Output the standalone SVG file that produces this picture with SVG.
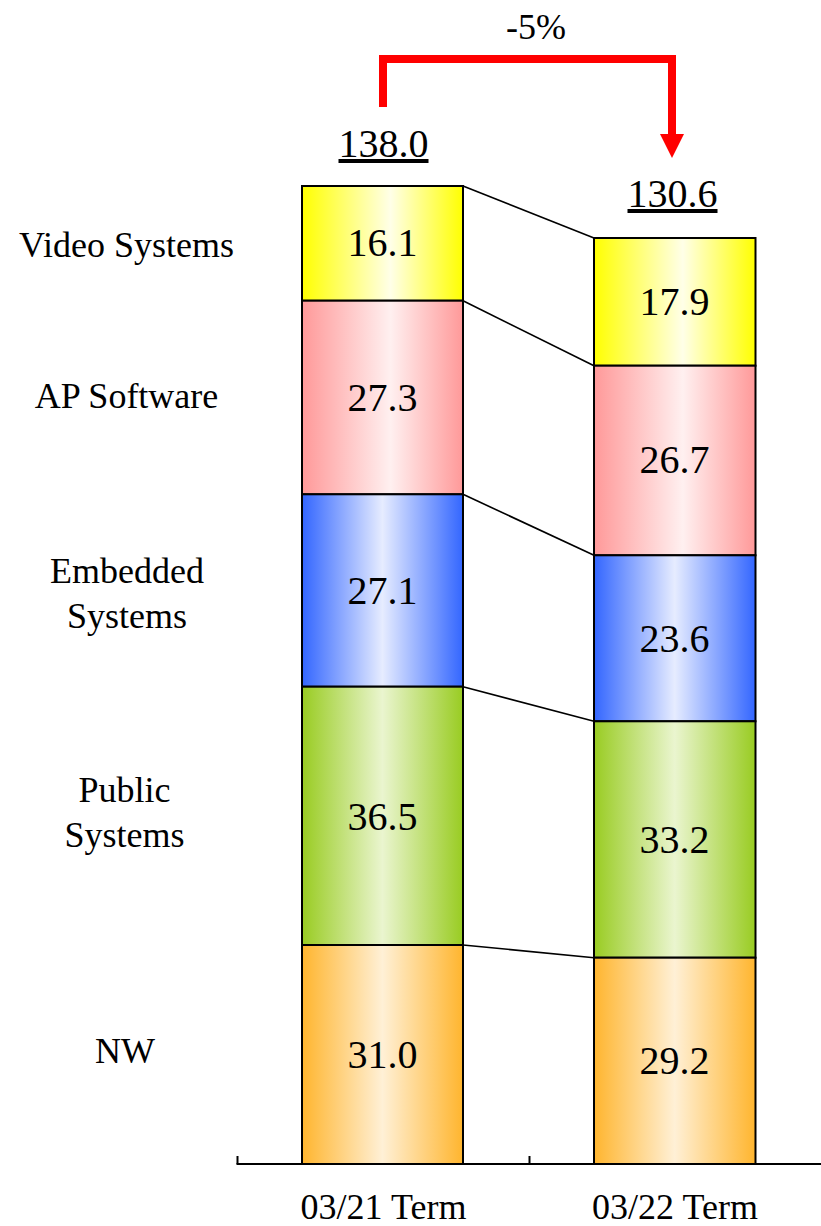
<svg xmlns="http://www.w3.org/2000/svg" width="821" height="1226" viewBox="0 0 821 1226">
<defs>
<linearGradient id="gY" x1="0" y1="0" x2="1" y2="0"><stop offset="0" stop-color="#FFFF00"/><stop offset="0.55" stop-color="#FFFFE8"/><stop offset="1" stop-color="#FFFF00"/></linearGradient>
<linearGradient id="gP" x1="0" y1="0" x2="1" y2="0"><stop offset="0" stop-color="#FF9999"/><stop offset="0.55" stop-color="#FFF0F0"/><stop offset="1" stop-color="#FF9999"/></linearGradient>
<linearGradient id="gB" x1="0" y1="0" x2="1" y2="0"><stop offset="0" stop-color="#3366FF"/><stop offset="0.5" stop-color="#E6ECFF"/><stop offset="1" stop-color="#3366FF"/></linearGradient>
<linearGradient id="gG" x1="0" y1="0" x2="1" y2="0"><stop offset="0" stop-color="#99CC22"/><stop offset="0.5" stop-color="#EAF5CF"/><stop offset="1" stop-color="#99CC22"/></linearGradient>
<linearGradient id="gO" x1="0" y1="0" x2="1" y2="0"><stop offset="0" stop-color="#FFB52E"/><stop offset="0.5" stop-color="#FFF0D6"/><stop offset="1" stop-color="#FFB52E"/></linearGradient>
</defs>
<style>
text{font-family:"Liberation Serif",Tinos,"Times New Roman",Times,"Noto Serif","DejaVu Serif",FreeSerif,serif;fill:#000}
.seg{stroke:#000;stroke-width:2}
.num{font-size:40px;text-anchor:middle}
.cat{font-size:36px;text-anchor:middle}
.tot{font-size:40px;text-anchor:middle;text-decoration:underline}
.conn{stroke:#000;stroke-width:1.6;fill:none}
</style>
<rect width="821" height="1226" fill="#fff"/>

<g id="connectors">
<line class="conn" x1="463" y1="186" x2="594" y2="238"/>
<line class="conn" x1="463" y1="300.7" x2="594" y2="365.7"/>
<line class="conn" x1="463" y1="494.3" x2="594" y2="555.3"/>
<line class="conn" x1="463" y1="686.7" x2="594" y2="721.3"/>
<line class="conn" x1="463" y1="945" x2="594" y2="957.7"/>
<path d="M383,107 V59 H672 V136" fill="none" stroke="#FF0000" stroke-width="8"/>
<polygon points="660,134 684,134 672,158" fill="#FF0000"/>
</g>

<g id="axis">
<line x1="236.5" y1="1164" x2="821" y2="1164" stroke="#000" stroke-width="2"/>
<line x1="237.5" y1="1156" x2="237.5" y2="1164" stroke="#000" stroke-width="2"/>
<line x1="529.5" y1="1156" x2="529.5" y2="1164" stroke="#000" stroke-width="2"/>
</g>

<g id="bar1-video"><rect class="seg" x="302" y="186" width="161" height="114.7" fill="url(#gY)"/><text class="num" x="382.5" y="256">16.1</text></g>
<g id="bar1-ap"><rect class="seg" x="302" y="300.7" width="161" height="193.6" fill="url(#gP)"/><text class="num" x="382.5" y="410.5">27.3</text></g>
<g id="bar1-embedded"><rect class="seg" x="302" y="494.3" width="161" height="192.4" fill="url(#gB)"/><text class="num" x="382.5" y="603.5">27.1</text></g>
<g id="bar1-public"><rect class="seg" x="302" y="686.7" width="161" height="258.3" fill="url(#gG)"/><text class="num" x="382.5" y="830">36.5</text></g>
<g id="bar1-nw"><rect class="seg" x="302" y="945" width="161" height="219" fill="url(#gO)"/><text class="num" x="382.5" y="1068">31.0</text></g>

<g id="bar2-video"><rect class="seg" x="594" y="238" width="161.5" height="127.7" fill="url(#gY)"/><text class="num" x="674.5" y="315">17.9</text></g>
<g id="bar2-ap"><rect class="seg" x="594" y="365.7" width="161.5" height="189.6" fill="url(#gP)"/><text class="num" x="674.5" y="473">26.7</text></g>
<g id="bar2-embedded"><rect class="seg" x="594" y="555.3" width="161.5" height="166" fill="url(#gB)"/><text class="num" x="674.5" y="652">23.6</text></g>
<g id="bar2-public"><rect class="seg" x="594" y="721.3" width="161.5" height="236.4" fill="url(#gG)"/><text class="num" x="674.5" y="853">33.2</text></g>
<g id="bar2-nw"><rect class="seg" x="594" y="957.7" width="161.5" height="206.3" fill="url(#gO)"/><text class="num" x="674.5" y="1074">29.2</text></g>

<g id="totals">
<text class="tot" x="383.5" y="157">138.0</text>
<text class="tot" x="672.5" y="207">130.6</text>
<text x="536" y="39" font-size="36" text-anchor="middle">-5%</text>
</g>

<g id="categories">
<text class="cat" x="126.5" y="257">Video Systems</text>
<text class="cat" x="126.5" y="408">AP Software</text>
<text class="cat" x="127" y="583">Embedded</text>
<text class="cat" x="127" y="628">Systems</text>
<text class="cat" x="124.5" y="802">Public</text>
<text class="cat" x="124.5" y="847">Systems</text>
<text class="cat" x="125" y="1063">NW</text>
</g>

<g id="x-labels">
<text class="cat" x="383.5" y="1219">03/21 Term</text>
<text class="cat" x="675" y="1219">03/22 Term</text>
</g>
</svg>
